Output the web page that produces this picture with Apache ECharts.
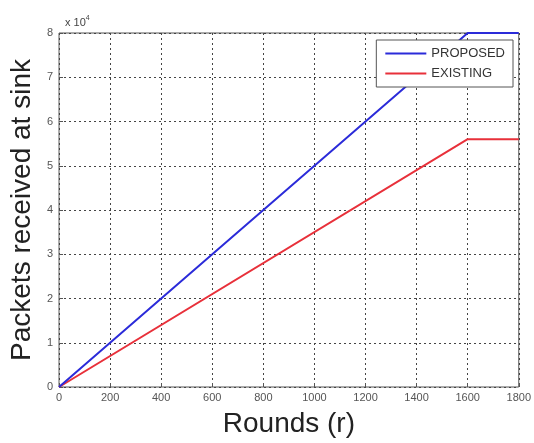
<!DOCTYPE html>
<html>
<head>
<meta charset="utf-8">
<script src="https://cdn.jsdelivr.net/npm/echarts@6/dist/echarts.min.js"></script>
<style>
  html, body { margin: 0; padding: 0; background: #fff; }
  #chart { width: 534px; height: 443px; }
</style>
</head>
<body>
<div id="chart"></div>
<script>
// 数据
var rounds = [0, 1600, 1800];
var proposed = [0, 80000, 80000];
var existing = [0, 56000, 56000];

(function () {
  var myChart = echarts.init(document.getElementById("chart"));
  var font = "Liberation Sans, Arial, sans-serif";
  var grid = "#444";
  var option = {
    animation: false,
    textStyle: { fontFamily: font },
    // x 10^4 标记
    title: {
      text: "x 10{s|4}",
      left: 60,
      top: 10,
      textStyle: {
        fontSize: 11, fontWeight: "normal", color: "#444",
        rich: { s: { fontSize: 7, verticalAlign: "top", padding: [0, 0, 8, 0], color: "#444" } }
      }
    },
    legend: {
      orient: "vertical",
      right: 21,
      top: 40,
      icon: "rect",
      itemWidth: 41,
      itemHeight: 2,
      itemGap: 5,
      padding: [6, 8, 6, 9],
      borderColor: "#555",
      borderWidth: 1,
      backgroundColor: "#fff",
      textStyle: { color: "#333", fontSize: 13, lineHeight: 15 },
      data: ["PROPOSED", "EXISTING"]
    },
    grid: {
      left: 57,
      right: 15,
      top: 33,
      bottom: 52,
      show: true,
      borderColor: "#555",
      borderWidth: 1
    },
    xAxis: {
      type: "value",
      min: 0,
      max: 1800,
      interval: 200,
      name: "Rounds (r)",
      nameLocation: "middle",
      nameGap: 23,
      nameTextStyle: { fontSize: 28, color: "#222" },
      axisLine: { show: false },
      axisTick: { inside: true, length: 4, lineStyle: { color: "#555" } },
      axisLabel: {
        fontSize: 11, color: "#555", margin: 5,
        formatter: function (v) { return String(v); }
      },
      splitLine: { lineStyle: { color: grid, type: [2, 3], width: 1 } }
    },
    yAxis: {
      type: "value",
      min: 0,
      max: 80000,
      interval: 10000,
      name: "Packets received at sink",
      nameLocation: "middle",
      nameGap: 18,
      nameTextStyle: { fontSize: 28, color: "#222" },
      axisLine: { show: false },
      axisTick: { inside: true, length: 4, lineStyle: { color: "#555" } },
      axisLabel: {
        fontSize: 11, color: "#555", margin: 6,
        formatter: function (v) { return v / 10000; }
      },
      splitLine: { lineStyle: { color: grid, type: [2, 3], width: 1 } }
    },
    series: [
      {
        name: "PROPOSED",
        type: "line",
        symbol: "none",
        color: "#2b2bd9",
        lineStyle: { width: 2, color: "#2b2bd9" },
        data: rounds.map(function (r, i) { return [r, proposed[i]]; }),
        z: 3
      },
      {
        name: "EXISTING",
        type: "line",
        symbol: "none",
        color: "#e8303a",
        lineStyle: { width: 2, color: "#e8303a" },
        data: rounds.map(function (r, i) { return [r, existing[i]]; }),
        z: 2
      }
    ]
  };
  myChart.setOption(option);
  window.addEventListener("resize", function () {
    myChart.resize();
  });
})();
</script>
</body>
</html>
